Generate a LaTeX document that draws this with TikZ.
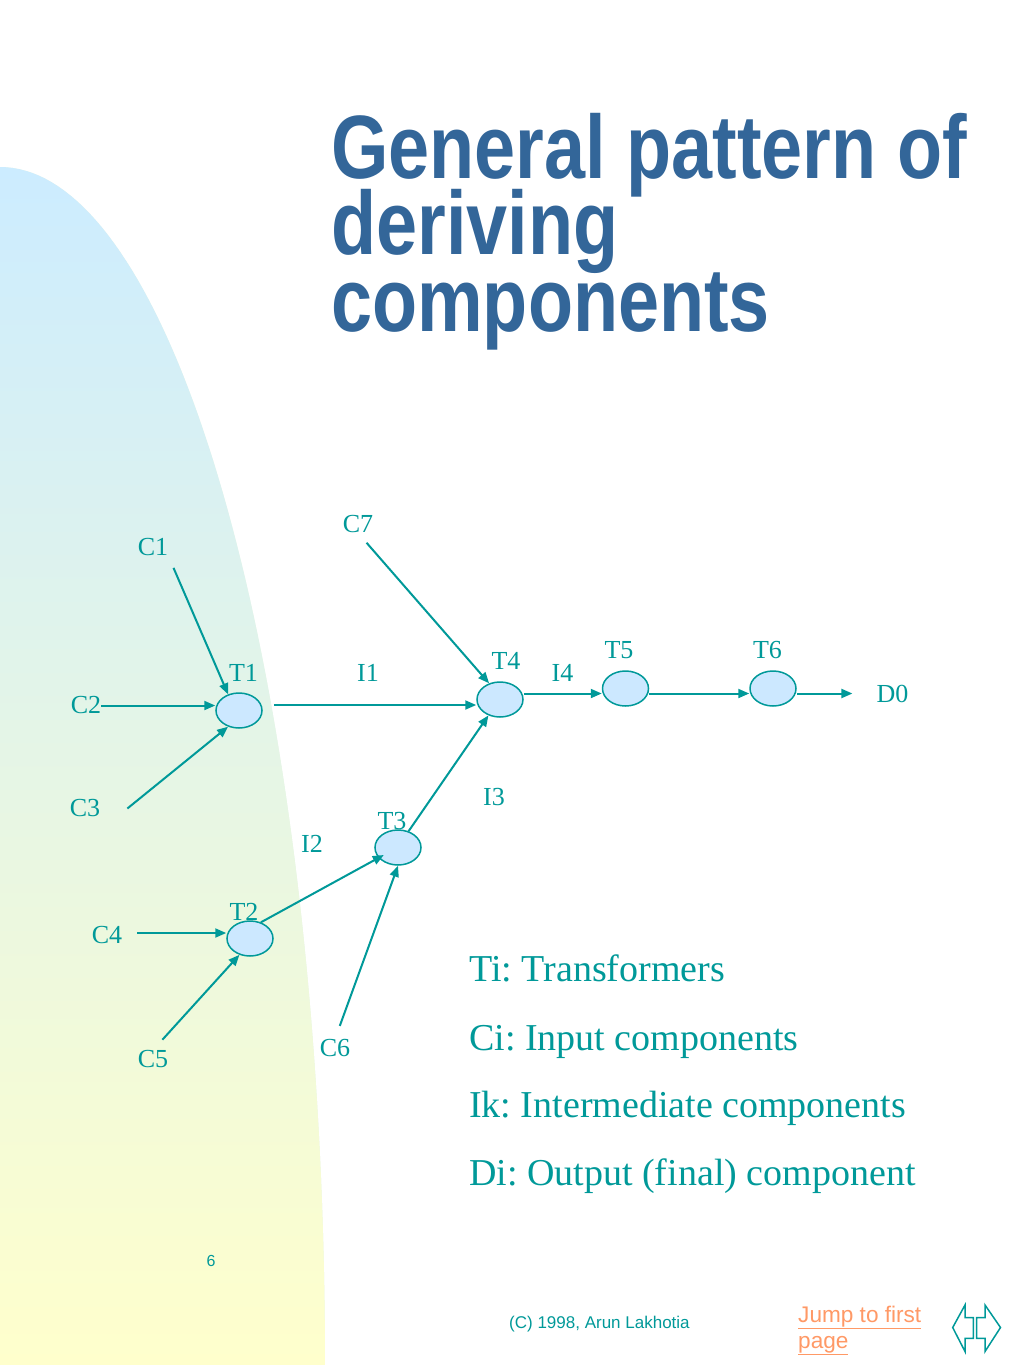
\documentclass[tikz,border=0pt]{standalone}
\usepackage{fontspec}
\setmainfont{Liberation Serif}
\newfontfamily\titlefont[FakeStretch=0.82]{Liberation Sans}
\newfontfamily\footfont{Liberation Sans}
\usetikzlibrary{positioning, calc, arrows.meta, shapes.geometric}
\frenchspacing

\definecolor{diagteal}{RGB}{0,153,153}
\definecolor{titleblue}{RGB}{51,102,153}
\definecolor{nodeblue}{RGB}{204,232,255}
\definecolor{bgblue}{RGB}{204,236,255}
\definecolor{bgmid}{RGB}{230,246,230}
\definecolor{bgyellow}{RGB}{255,255,204}
\definecolor{linkorange}{RGB}{255,153,102}

\begin{document}
\begin{tikzpicture}[
    x=1pt, y=-1pt,
    trans/.style={ellipse, draw=diagteal, line width=1.5pt, fill=nodeblue, minimum width=46pt, minimum height=35pt, inner sep=0pt},
    lbl/.style={text=diagteal, font=\fontsize{26}{30}\selectfont, inner sep=0pt},
    legend/.style={text=diagteal, font=\fontsize{38}{44}\selectfont, anchor=base west, inner sep=0pt},
    title/.style={text=titleblue, font=\titlefont\bfseries\fontsize{90}{90}\selectfont, anchor=base west, inner sep=0pt},
    foot/.style={font=\footfont\fontsize{17}{20}\selectfont, text=diagteal, anchor=base west, inner sep=0pt},
    arrow/.style={-{Triangle[length=11pt,width=9pt]}, draw=diagteal, line width=2pt}
]

    % Page and background band
    \fill[white] (0,0) rectangle (1024,1365);
    \useasboundingbox (0,0) rectangle (1024,1365);
    \fill[bgmid] (0,1365) -- plot[domain=90:0, samples=80] ({325*cos(\x)}, {1365-1198*sin(\x)}) -- cycle;
    \shade[top color=bgblue, bottom color=bgyellow] (0,1365) -- plot[domain=90:0, samples=80] ({325*cos(\x)}, {1365-1198*sin(\x)}) -- cycle;

    % Title
    \node[title] (title_l1) at (331,178) {General pattern of};
    \node[title] (title_l2) at (331,254) {deriving};
    \node[title] (title_l3) at (331,331) {components};

    % Transformers
    \node[trans] (t1) at (239,710.5) {};
    \node[trans] (t2) at (250,938.5) {};
    \node[trans] (t3) at (398,847.5) {};
    \node[trans] (t4) at (500,699.5) {};
    \node[trans] (t5) at (625.5,688.5) {};
    \node[trans] (t6) at (773,688.5) {};

    \node[lbl] (t1_label) at (243.5,672.5) {T1};
    \node[lbl] (t2_label) at (244,912) {T2};
    \node[lbl] (t3_label) at (392,821) {T3};
    \node[lbl] (t4_label) at (506,661) {T4};
    \node[lbl] (t5_label) at (619,650) {T5};
    \node[lbl] (t6_label) at (767.5,650) {T6};

    % Input components
    \node[lbl] (c1) at (153,547) {C1};
    \node[lbl] (c2) at (86,705.5) {C2};
    \node[lbl] (c3) at (85,808.5) {C3};
    \node[lbl] (c4) at (107,935) {C4};
    \node[lbl] (c5) at (153,1059) {C5};
    \node[lbl] (c6) at (335,1048) {C6};
    \node[lbl] (c7) at (358,524) {C7};

    % Intermediate and output components
    \node[lbl] (i1) at (368,673) {I1};
    \node[lbl] (i2) at (312,844) {I2};
    \node[lbl] (i3) at (494,797) {I3};
    \node[lbl] (i4) at (562.5,673) {I4};
    \node[lbl] (d0) at (892.5,694) {D0};

    % Inputs to transformers
    \draw[arrow, shorten <=13pt] (c1.south east) -- (t1.124);
    \draw[arrow] (c2.east) -- (c2.east -| t1.west);
    \draw[arrow] ([xshift=27pt]c3.east) -- (t1.236);
    \draw[arrow, shorten <=15pt] ([yshift=2pt]c4.east) -- ([yshift=2pt]c4.east -| t2.west);
    \draw[arrow, shorten <=14pt] (c5.north) -- (t2.237);
    \draw[arrow, shorten <=14pt] (c6.north) -- (t3.south);
    \draw[arrow, shorten <=13pt] (c7.south) -- (t4.124);

    % Transformer chain
    \draw[arrow, shorten <=11pt] ([yshift=5.5pt]t1.east) -- ([yshift=5.5pt]t1.east -| t4.west);
    \draw[arrow, shorten >=-6pt] (t2.56) -- (t3.208);
    \draw[arrow] (t3.57) -- (t4.234);
    \draw[arrow] ([yshift=6pt]t4.east) -- ([yshift=6pt]t4.east -| t5.west);
    \draw[arrow] ([yshift=-5pt]t5.east) -- ([yshift=-5pt]t5.east -| t6.west);
    \draw[arrow, shorten >=24pt] ([yshift=-5pt]t6.east) -- ([yshift=-5pt]t6.east -| d0.west);

    % Legend
    \node[legend] (leg_t) at (469,981.5) {Ti: Transformers};
    \node[legend] (leg_c) at (469,1050) {Ci: Input components};
    \node[legend] (leg_i) at (469,1117) {Ik: Intermediate components};
    \node[legend] (leg_d) at (469,1185) {Di: Output (final) component};

    % Footer
    \node[foot, anchor=center, font=\footfont\fontsize{16}{19}\selectfont] (page_no) at (211,1261) {6};
    \node[foot] (credit) at (509,1328) {(C) 1998, Arun Lakhotia};
    \node[foot, text=linkorange, font=\footfont\fontsize{22.6}{25}\selectfont] (jump_l1) at (798,1322) {\underline{Jump to first}};
    \node[foot, text=linkorange, font=\footfont\fontsize{22.6}{25}\selectfont] (jump_l2) at (798,1348) {\underline{page}};

    % Navigation arrows
    \draw[diagteal, line width=1.5pt] (952.7,1327.5) -- (965,1305) -- (965,1317.7) -- (973.3,1317.7) -- (973.3,1338.3) -- (965,1338.3) -- (965,1351.5) -- cycle;
    \draw[diagteal, line width=1.5pt] (1000.5,1327.5) -- (985,1305) -- (985,1317.7) -- (976.7,1317.7) -- (976.7,1338.3) -- (985,1338.3) -- (985,1351.5) -- cycle;

\end{tikzpicture}
\end{document}
